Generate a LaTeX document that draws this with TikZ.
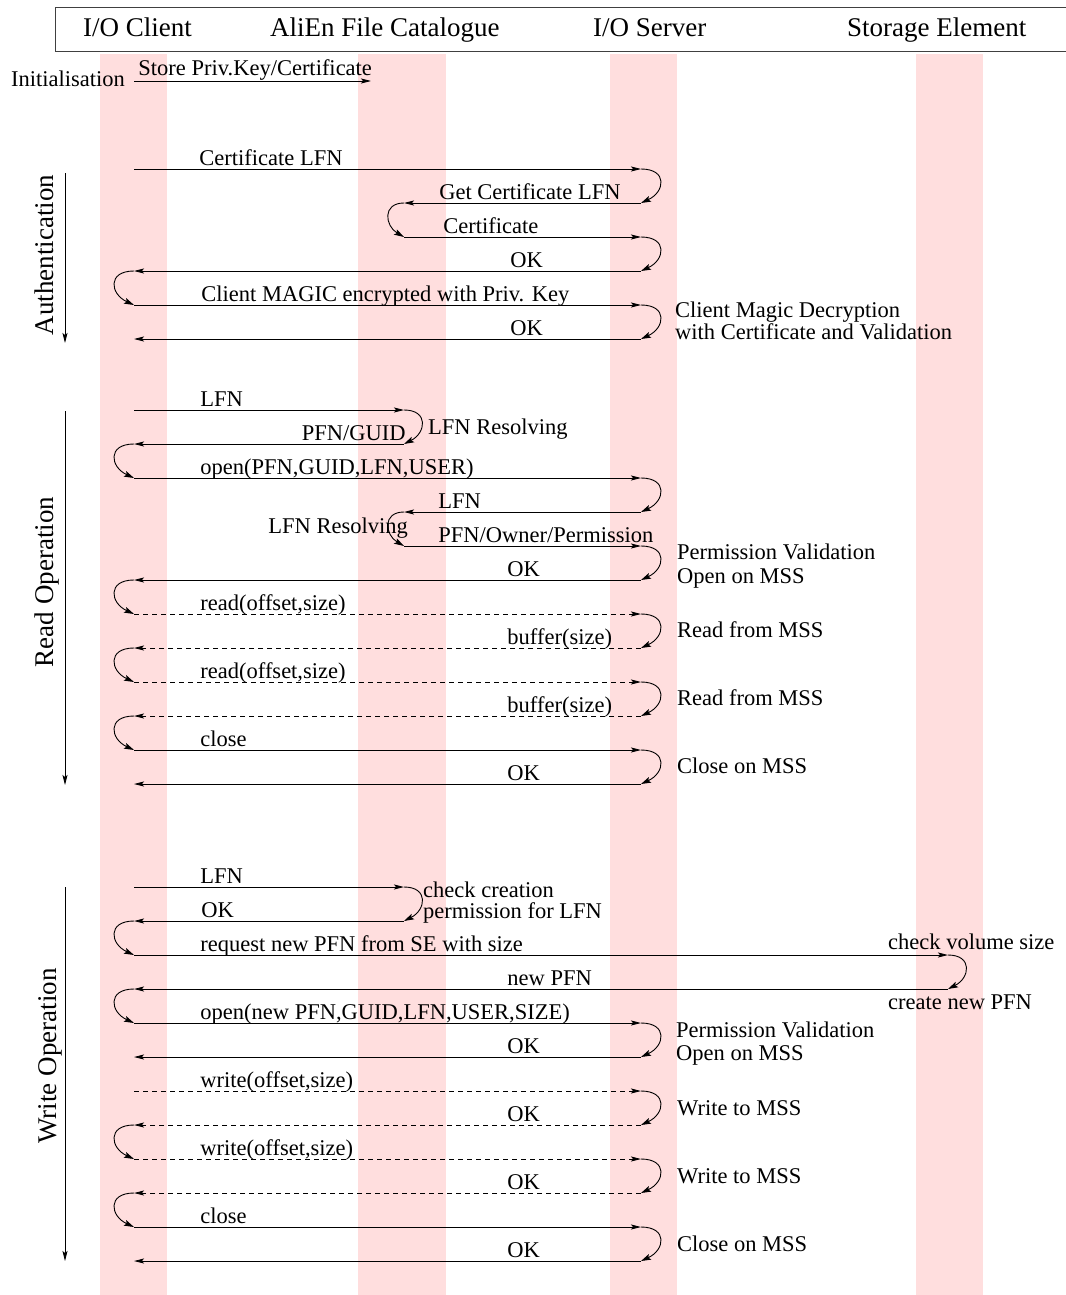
\documentclass[tikz,border=0pt]{standalone}
\usepackage{fontspec}
\setmainfont{Liberation Serif}
\usetikzlibrary{arrows.meta,positioning}

\begin{document}
\begin{tikzpicture}[x=1pt, y=-1pt,
  lane/.style={fill=red!13, draw=none},
  head/.style={font=\fontsize{27}{29}\selectfont, inner sep=0pt, anchor=base west},
  phase/.style={font=\fontsize{27}{29}\selectfont, rotate=90, inner sep=0pt, anchor=base},
  lbl/.style={font=\fontsize{22.5}{24}\selectfont, inner sep=0pt, anchor=base west},
  lblr/.style={lbl, anchor=base east},
  msg/.style={-{Stealth[length=10pt, width=5pt, inset=2pt]}, line width=0.9pt},
  reply/.style={msg, dash pattern=on 5pt off 4pt},
  turn/.style={-{Stealth[length=10pt, width=6pt, inset=2pt]}, line width=0.9pt},
  phasearr/.style={-{Stealth[length=10pt, width=5pt, inset=2pt]}, line width=0.9pt}
]
\useasboundingbox (0,0) rectangle (1065,1295);

% swim lanes
\foreach \a/\b in {100/167, 358/446, 610/677, 916/983}
  \fill[lane] (\a,54) rectangle (\b,1295);

% header
\draw[black!75, line width=0.9pt] (1080,7) -- (55,7) -- (55,51) -- (1080,51);
\node[head] (hcli) at (83,37) {I/O Client};
\node[head] (hcat) at (270,37) {AliEn File Catalogue};
\node[head] (hsrv) at (593,37) {I/O Server};
\node[head] (hse) at (847,37) {Storage Element};

% lifelines
\coordinate (cli) at (134,0);
\coordinate (cat) at (404,0);
\coordinate (srv) at (641,0);
\coordinate (se) at (948,0);

% initialisation
\node[lblr] (init) at (125,87) {Initialisation};
\coordinate (keyend) at (371,81);
\draw[msg] (cli |- 0,81) -- (keyend) node[lbl] (store) at (138,76) {Store Priv.Key/Certificate};

% authentication
\draw[phasearr] (65,173) -- (65,343);
\node[phase] (auth) at (53,255) {Authentication};
\draw[msg] (cli |- 0,169) -- (srv |- 0,169) node[lbl] (certlfn) at (199,165) {Certificate LFN};
\draw[msg] (srv |- 0,203) -- (cat |- 0,203) node[lblr] (getcert) at (621,199) {Get Certificate LFN};
\draw[msg] (cat |- 0,237) -- (srv |- 0,237) node[lbl] (cert) at (443,233) {Certificate};
\draw[msg] (srv |- 0,271) -- (cli |- 0,271) node[lbl] (okA) at (510,267) {OK};
\draw[msg] (cli |- 0,305) -- (srv |- 0,305) node[lbl] (magic) at (201,301) {Client MAGIC encrypted with Priv. Key};
\draw[msg] (srv |- 0,339) -- (cli |- 0,339) node[lbl] (okB) at (510,335) {OK};
\node[lbl] (decr) at (675,317) {Client Magic Decryption};
\node[lbl] (valid) at (675,339) {with Certificate and Validation};

% read operation
\draw[phasearr] (65,411) -- (65,785);
\node[phase] (read) at (53,582) {Read Operation};
\draw[msg] (cli |- 0,410) -- (cat |- 0,410) node[lbl] (rlfn) at (200,406) {LFN};
\node[lbl] (rresA) at (428,434) {LFN Resolving};
\draw[msg] (cat |- 0,444) -- (cli |- 0,444) node[lblr] (rguid) at (406,440) {PFN/GUID};
\draw[msg] (cli |- 0,478) -- (srv |- 0,478) node[lbl] (ropen) at (200,474) {open(PFN,GUID,LFN,USER)};
\draw[msg] (srv |- 0,512) -- (cat |- 0,512) node[lbl] (rlfnB) at (438,508) {LFN};
\node[lblr] (rresB) at (408,533) {LFN Resolving};
\draw[msg] (cat |- 0,546) -- (srv |- 0,546) node[lbl] (rperm) at (438,542) {PFN/Owner/Permission};
\node[lbl] (rvalid) at (677,559) {Permission Validation};
\node[lbl] (rmss) at (677,583) {Open on MSS};
\draw[msg] (srv |- 0,580) -- (cli |- 0,580) node[lbl] (rokA) at (507,576) {OK};
\draw[reply] (cli |- 0,614) -- (srv |- 0,614) node[lbl] (rreadA) at (200,610) {read(offset,size)};
\node[lbl] (rfromA) at (677,637) {Read from MSS};
\draw[reply] (srv |- 0,648) -- (cli |- 0,648) node[lbl] (rbufA) at (507,644) {buffer(size)};
\draw[reply] (cli |- 0,682) -- (srv |- 0,682) node[lbl] (rreadB) at (200,678) {read(offset,size)};
\node[lbl] (rfromB) at (677,705) {Read from MSS};
\draw[reply] (srv |- 0,716) -- (cli |- 0,716) node[lbl] (rbufB) at (507,712) {buffer(size)};
\draw[msg] (cli |- 0,750) -- (srv |- 0,750) node[lbl] (rclose) at (200,746) {close};
\node[lbl] (rcmss) at (677,773) {Close on MSS};
\draw[msg] (srv |- 0,784) -- (cli |- 0,784) node[lbl] (rokB) at (507,780) {OK};

% write operation
\draw[phasearr] (65,887) -- (65,1261);
\node[phase] (write) at (56,1056) {Write Operation};
\draw[msg] (cli |- 0,887) -- (cat |- 0,887) node[lbl] (wlfn) at (200,883) {LFN};
\node[lbl] (wchk) at (423,897) {check creation};
\node[lbl] (wchkB) at (423,918) {permission for LFN};
\draw[msg] (cat |- 0,921) -- (cli |- 0,921) node[lbl] (wokA) at (201,917) {OK};
\draw[msg] (cli |- 0,955) -- (se |- 0,955) node[lbl] (wreq) at (200,951) {request new PFN from SE with size};
\node[lbl] (wvol) at (888,949) {check volume size};
\draw[msg] (se |- 0,989) -- (cli |- 0,989) node[lbl] (wpfn) at (507,985) {new PFN};
\node[lbl] (wcreate) at (888,1009) {create new PFN};
\draw[msg] (cli |- 0,1023) -- (srv |- 0,1023) node[lbl] (wopen) at (200,1019) {open(new PFN,GUID,LFN,USER,SIZE)};
\node[lbl] (wvalid) at (676,1037) {Permission Validation};
\node[lbl] (wmss) at (676,1060) {Open on MSS};
\draw[msg] (srv |- 0,1057) -- (cli |- 0,1057) node[lbl] (wokB) at (507,1053) {OK};
\draw[reply] (cli |- 0,1091) -- (srv |- 0,1091) node[lbl] (wwrA) at (200,1087) {write(offset,size)};
\node[lbl] (wtoA) at (677,1115) {Write to MSS};
\draw[reply] (srv |- 0,1125) -- (cli |- 0,1125) node[lbl] (wokC) at (507,1121) {OK};
\draw[reply] (cli |- 0,1159) -- (srv |- 0,1159) node[lbl] (wwrB) at (200,1155) {write(offset,size)};
\node[lbl] (wtoB) at (677,1183) {Write to MSS};
\draw[reply] (srv |- 0,1193) -- (cli |- 0,1193) node[lbl] (wokD) at (507,1189) {OK};
\draw[msg] (cli |- 0,1227) -- (srv |- 0,1227) node[lbl] (wclose) at (200,1223) {close};
\node[lbl] (wcmss) at (677,1251) {Close on MSS};
\draw[msg] (srv |- 0,1261) -- (cli |- 0,1261) node[lbl] (wokE) at (507,1257) {OK};

% turn-around arcs
\foreach \y [evaluate=\y as \z using \y+34] in {169,237,305,478,546,614,682,750,1023,1091,1159,1227}
  \draw[turn] (srv |- 0,\y) .. controls +(27,0) and +(24,-11) .. (srv |- 0,\z);
\foreach \y [evaluate=\y as \z using \y+34] in {271,444,580,648,716,921,989,1125,1193}
  \draw[turn] (cli |- 0,\y) .. controls +(-27,0) and +(-24,-11) .. (cli |- 0,\z);
\foreach \y [evaluate=\y as \z using \y+34] in {203,512}
  \draw[turn] (cat |- 0,\y) .. controls +(-22,0) and +(-19,-11) .. (cat |- 0,\z);
\foreach \y [evaluate=\y as \z using \y+34] in {410,887}
  \draw[turn] (cat |- 0,\y) .. controls +(25,0) and +(22,-11) .. (cat |- 0,\z);
\draw[turn] (se |- 0,955) .. controls +(25,0) and +(22,-11) .. (se |- 0,989);

\end{tikzpicture}
\end{document}
